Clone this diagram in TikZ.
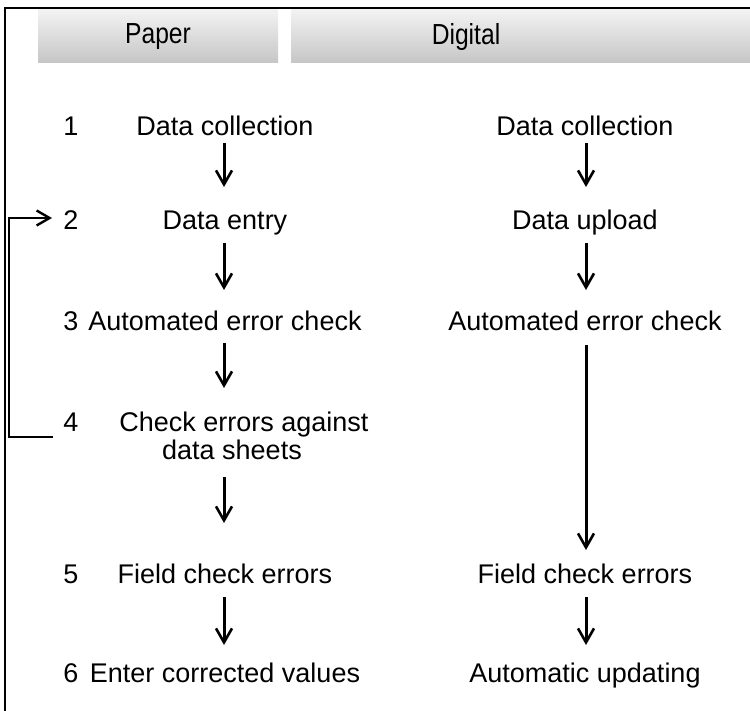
\documentclass[tikz,border=0pt]{standalone}
\usepackage{fontspec}
\setmainfont{Liberation Sans}
\usetikzlibrary{arrows.meta,calc}
\begin{document}
\begin{tikzpicture}[x=0.5pt,y=-0.5pt,
  txt/.style={inner sep=0pt,font=\fontsize{13.5pt}{16pt}\selectfont},
  num/.style={txt,anchor=base west},
  item/.style={txt,anchor=base},
  head/.style={inner sep=0pt,font=\fontsize{14.5pt}{16pt}\selectfont,xscale=0.85},
  flow/.style={line width=1.5pt,-{Straight Barb[length=7pt,width=8pt,line width=1.3pt]}},
  loopline/.style={line width=1.2pt,-{Straight Barb[length=6.5pt,width=7.5pt,line width=1.2pt]}},
  band/.style={top color=gray!10,bottom color=gray!45,draw=none}]
\useasboundingbox (0,0) rectangle (750,711);
\fill[white] (0,0) rectangle (750,711);

% frame edges
\draw[line width=1.1pt] (5,711) -- (5,8) -- (750,8);

% column headers
\shade[band] (38,10) rectangle (278,63);
\shade[band] (291,10) rectangle (750,63);
\node[head] (hp) at (158,37) {Paper};
\node[head] (hd) at (466,37) {Digital};

% step numbers
\node[num] (n1) at (63,136) {1};
\node[num] (n2) at (63,230) {2};
\node[num] (n3) at (63,330) {3};
\node[num] (n4) at (63,431) {4};
\node[num] (n5) at (63,583) {5};
\node[num] (n6) at (63,682) {6};

% paper workflow
\node[item] (p1) at (225,136) {Data collection};
\node[item] (p2) at (225,230) {Data entry};
\node[item] (p3) at (225,330) {Automated error check};
\node[item] (p4) at (244,431) {Check errors against};
\node[item] (p4b) at (232,459) {data sheets};
\node[item] (p5) at (225,583) {Field check errors};
\node[item] (p6) at (225,682) {Enter corrected values};

% digital workflow
\node[item] (d1) at (585,136) {Data collection};
\node[item] (d2) at (585,230) {Data upload};
\node[item] (d3) at (585,330) {Automated error check};
\node[item] (d5) at (585,583) {Field check errors};
\node[item] (d6) at (585,682) {Automatic updating};

% paper arrows
\draw[flow] ($(p1.base)+(-1,7)$) -- ($(p2.base)+(-1,-43)$);
\draw[flow] ($(p2.base)+(-1,13)$) -- ($(p3.base)+(-1,-40)$);
\draw[flow] ($(p3.base)+(-1,13)$) -- ($(p3.base)+(-1,58)$);
\draw[flow] ($(p4b.base)+(-8,18)$) -- ($(p5.base)+(-1,-60)$);
\draw[flow] ($(p5.base)+(-1,14)$) -- ($(p6.base)+(-1,-37)$);

% digital arrows
\draw[flow] ($(d1.base)+(1,7)$) -- ($(d2.base)+(1,-43)$);
\draw[flow] ($(d2.base)+(1,13)$) -- ($(d3.base)+(1,-40)$);
\draw[flow] ($(d3.base)+(1,15)$) -- ($(d5.base)+(1,-33)$);
\draw[flow] ($(d5.base)+(1,14)$) -- ($(d6.base)+(1,-37)$);

% feedback loop from step 4 back to step 2
\draw[loopline] ($(n4.base west)+(-10,6)$) -| (9,218) -- ($(n2.base west)+(-11,-12)$);
\end{tikzpicture}
\end{document}
